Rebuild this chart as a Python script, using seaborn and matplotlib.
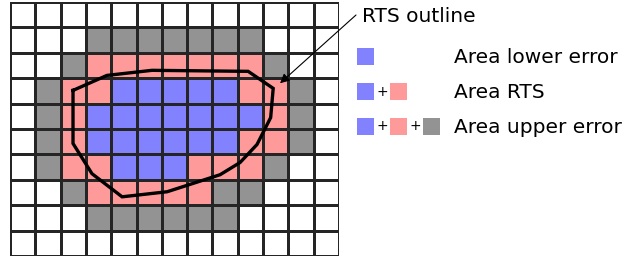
"""Grid sketch of RTS area with lower / upper error cells."""

import matplotlib

matplotlib.use("Agg")
import matplotlib.pyplot as plt
import numpy as np
import seaborn as sns
from matplotlib.colors import ListedColormap
from matplotlib.patches import Rectangle

# cell classes: 0 outside, 1 lower error, 2 RTS, 3 upper error
GRID_ROWS = [
    "0000000000000",
    "0003333333000",
    "0032222222300",
    "0322111112230",
    "0321111111230",
    "0321111112230",
    "0322111222300",
    "0032222233000",
    "0003333330000",
    "0000000000000",
]

# RTS outline vertices in cell units (x from left, y from top)
OUTLINE_X = [2.49, 3.83, 5.61, 9.41, 10.40, 10.30, 9.76, 9.09, 8.30, 6.21, 4.43, 3.24, 2.49, 2.49]
OUTLINE_Y = [3.48, 2.89, 2.69, 2.73, 3.40, 4.55, 5.61, 6.32, 6.80, 7.47, 7.67, 6.76, 5.57, 3.48]
ARROW_TIP = (10.67, 3.20)

LEGEND_LABELS = ["Area lower error", "Area RTS", "Area upper error"]
OUTLINE_LABEL = "RTS outline"

WHITE = "#ffffff"
BLUE = "#8282ff"
PINK = "#ff9a9a"
GRAY = "#939393"


def main() -> None:
    grid = np.array([[int(c) for c in row] for row in GRID_ROWS])

    fig = plt.figure(figsize=(6.25, 2.61), dpi=100)
    W, H = 625, 261

    ax = fig.add_axes([10 / W, 5 / H, 329 / W, 254 / H])
    sns.heatmap(
        grid,
        ax=ax,
        cmap=ListedColormap([WHITE, BLUE, PINK, GRAY]),
        vmin=-0.5,
        vmax=3.5,
        cbar=False,
        linewidths=1.0,
        linecolor="#252525",
        xticklabels=False,
        yticklabels=False,
    )
    ax.plot(OUTLINE_X, OUTLINE_Y, color="black", lw=2.4, solid_joinstyle="miter")

    ax.annotate(
        "",
        xy=ARROW_TIP,
        xycoords="data",
        xytext=(356, H - 15),
        textcoords="figure pixels",
        arrowprops=dict(arrowstyle="-|>", color="black", lw=0.8,
                        shrinkA=0, shrinkB=0, mutation_scale=14),
        annotation_clip=False,
    )
    fig.text(362 / W, 1 - 16 / H, OUTLINE_LABEL, fontsize=14.5, va="center", ha="left")

    # legend panel in pixel coordinates
    lg = fig.add_axes([340 / W, 0, 285 / W, 1])
    lg.set_xlim(340, 625)
    lg.set_ylim(261, 0)
    lg.axis("off")

    sq = 17
    gap = 16
    rows_y = [48, 83, 118]
    swatches = [[BLUE], [BLUE, PINK], [BLUE, PINK, GRAY]]
    for y, cols, label in zip(rows_y, swatches, LEGEND_LABELS):
        x = 357
        for i, c in enumerate(cols):
            if i > 0:
                lg.text(x + gap / 2, y + sq / 2, "+", fontsize=10, ha="center", va="center")
                x += gap
            lg.add_patch(Rectangle((x, y), sq, sq, facecolor=c, edgecolor="none"))
            x += sq
        lg.text(454, y + sq / 2 + 1, label, fontsize=14.5, ha="left", va="center")

    fig.savefig("out.png", dpi=100)
    plt.close(fig)


if __name__ == "__main__":
    main()
